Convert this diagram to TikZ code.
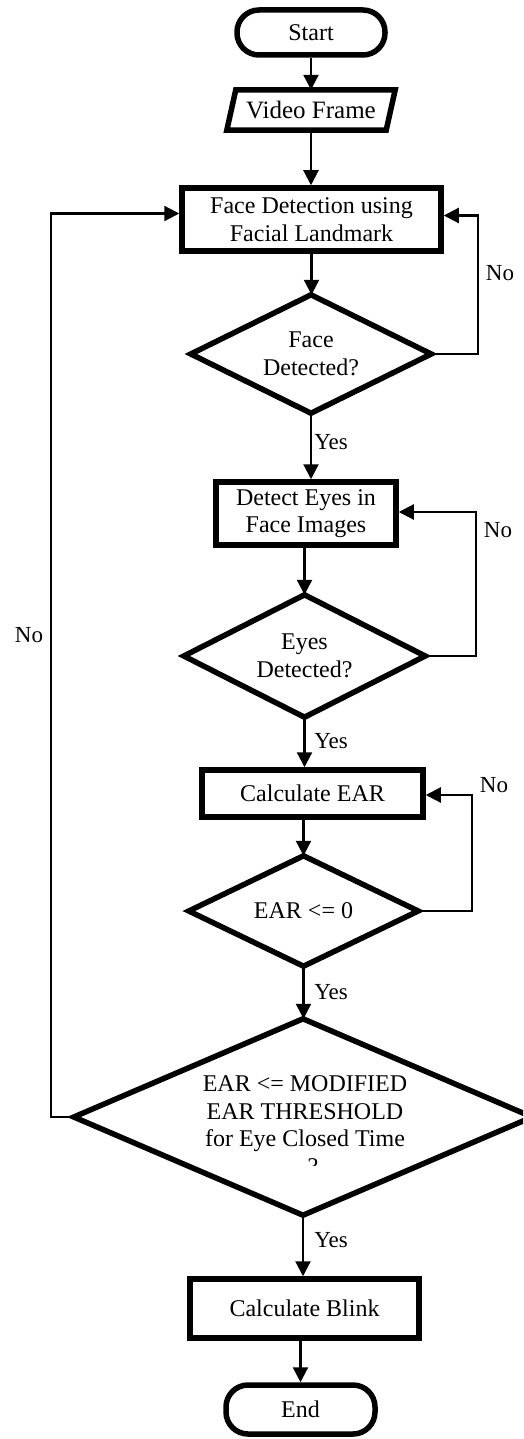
\documentclass[tikz,border=0pt]{standalone}
\usepackage{fontspec}
\setmainfont{Liberation Serif}
\usetikzlibrary{arrows.meta,calc}
\newcommand\fsz{\fontsize{24}{27.5}\selectfont}
\begin{document}
\begin{tikzpicture}[x=1pt,y=-1pt,
  box/.style={draw, line width=5.5pt, rectangle, inner sep=0pt, align=center, font=\fsz},
  term/.style={box, rounded corners=22pt},
  diabox/.style={rectangle, draw=none, inner sep=0pt, align=center, font=\fsz},
  diaedge/.style={line width=5.5pt, line join=miter},
  conn/.style={line width=2.2pt},
  arr/.style={conn, -{Triangle[width=15pt,length=15pt]}},
  lbl/.style={font=\fontsize{23}{26}\selectfont, inner sep=0pt}]
\useasboundingbox (0,0) rectangle (523,1439);
\fill[white] (0,0) rectangle (523,1439);
\clip (0,0) rectangle (523,1439);

% nodes
\node[term, minimum width=148pt, minimum height=45pt] (start) at (311,32.5) {Start};
\node[diabox, minimum width=159pt, minimum height=40pt, font=\fontsize{25}{28}\selectfont] (video) at (311,110) {Video Frame};
\draw[line width=5.5pt, line join=miter] ($(video.north west)+(4.5,0)$) -- ($(video.north east)+(4.5,0)$) -- ($(video.south east)+(-4.5,0)$) -- ($(video.south west)+(-4.5,0)$) -- cycle;

\node[box, minimum width=259pt, minimum height=63pt] (facedet) at (311.5,219.5) {Face Detection using\\Facial Landmark};
\node[diabox, minimum width=240pt, minimum height=118pt] (dface) at (311,354) {Face\\Detected?};
\draw[diaedge] (dface.north) -- (dface.east) -- (dface.south) -- (dface.west) -- cycle;

\node[box, minimum width=180pt, minimum height=63pt] (deyes) at (306,513.5) {Detect Eyes in\\Face Images};
\node[diabox, minimum width=241pt, minimum height=122pt] (ddeyes) at (304.5,656) {Eyes\\Detected?};
\draw[diaedge] (ddeyes.north) -- (ddeyes.east) -- (ddeyes.south) -- (ddeyes.west) -- cycle;

\node[box, minimum width=221pt, minimum height=47pt] (calc) at (312.5,793.5) {Calculate EAR};
\node[diabox, minimum width=229pt, minimum height=110pt] (dear) at (303.5,911) {EAR <= 0};
\draw[diaedge] (dear.north) -- (dear.east) -- (dear.south) -- (dear.west) -- cycle;

\node[diabox, minimum width=458pt, minimum height=196pt] (dthr) at (303,1117) {};
\draw[diaedge] (dthr.north) -- (dthr.east) -- (dthr.south) -- (dthr.west) -- cycle;
\node[diabox] (thrtext) at (305,1114) {EAR <= MODIFIED\\EAR THRESHOLD\\for Eye Closed Time};
\begin{scope}
\clip (200,1140) rectangle (420,1165);
\node[font=\fsz, inner sep=0pt] (q) at (313,1167) {?};
\end{scope}

\node[box, minimum width=229pt, minimum height=59pt] (blink) at (304.5,1308.5) {Calculate Blink};
\node[term, minimum width=149pt, minimum height=49pt] (end) at (300.5,1409.5) {End};

% straight connectors
\draw[arr] (start.south) -- (start.south |- video.north);
\draw[arr] (video.south) -- (video.south |- facedet.north);
\draw[arr] (facedet.south) -- (facedet.south |- dface.north);
\draw[arr] (dface.south) -- (dface.south |- deyes.north);
\draw[arr] (deyes.south -| ddeyes.north) -- (ddeyes.north);
\draw[arr] (ddeyes.south) -- (ddeyes.south |- calc.north);
\draw[arr] (dear.north |- calc.south) -- (dear.north);
\draw[arr] (dear.south) -- (dear.south |- dthr.north);
\draw[arr] (dthr.south) -- (dthr.south |- blink.north);
\draw[arr] (end.north |- blink.south) -- (end.north);

% loops
\coordinate (r1) at (478,354);
\draw[arr] (dface.east) -- (r1) |- ([yshift=4pt]facedet.east);
\coordinate (r2) at (476,656);
\draw[arr] (ddeyes.east) -- (r2) |- ([yshift=1.5pt]deyes.east);
\coordinate (r3) at (472,911);
\draw[arr] (dear.east) -- (r3) |- ([yshift=-1.5pt]calc.east);
\coordinate (l1) at (51,1117);
\draw[arr] (dthr.west) -- (l1) |- ([yshift=6pt]facedet.west);

% labels
\node[lbl] (no1) at (500,273) {No};
\node[lbl] (no2) at (498,530) {No};
\node[lbl] (no3) at (494,785) {No};
\node[lbl] (no4) at (29,635) {No};
\node[lbl] (yes1) at (331,442) {Yes};
\node[lbl] (yes2) at (331,741) {Yes};
\node[lbl] (yes3) at (331,992) {Yes};
\node[lbl] (yes4) at (331,1240) {Yes};
\end{tikzpicture}
\end{document}
